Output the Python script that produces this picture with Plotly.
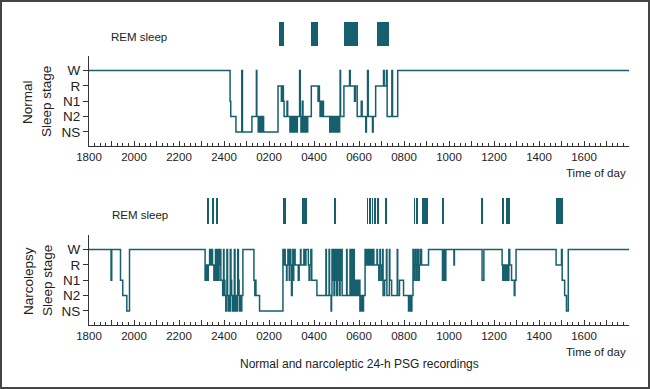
import plotly.graph_objects as go

# ---------------- data ----------------
stage_names = ["NS", "N2", "N1", "R", "W"]          # 0..4
hour_ticks = list(range(18, 43))
hour_labels = ["1800", "", "2000", "", "2200", "", "2400", "", "0200", "", "0400", "",
               "0600", "", "0800", "", "1000", "", "1200", "", "1400", "", "1600", "", ""]

# Normal subject hypnogram (clock hour since 18:00 day 1, stage index)
normal_time = [18.00, 24.27, 24.30, 24.53, 24.79, 24.82, 25.24, 25.44, 25.46, 25.52,
               25.55, 25.58, 25.61, 25.64, 25.67, 25.70, 25.73, 25.76, 26.40, 26.55,
               26.58, 26.64, 26.67, 26.80, 26.83, 26.93, 26.96, 26.99, 27.02, 27.05,
               27.08, 27.11, 27.14, 27.17, 27.20, 27.23, 27.26, 27.36, 27.39, 27.42,
               27.45, 27.48, 27.51, 27.54, 27.57, 27.60, 27.63, 27.66, 27.69, 27.72,
               27.88, 28.18, 28.21, 28.24, 28.27, 28.31, 28.34, 28.38, 28.42, 28.70,
               28.73, 28.76, 28.80, 28.83, 28.87, 28.90, 28.95, 29.00, 29.05, 29.08,
               29.14, 29.16, 29.18, 29.33, 29.58, 29.61, 29.80, 29.84, 29.92, 30.10,
               30.14, 30.30, 30.33, 30.38, 30.41, 30.60, 30.63, 30.74, 31.09, 31.12,
               31.22, 31.25, 31.46, 31.49, 31.72, 42.00]
normal_stage = [4, 2, 1, 0, 4, 0, 1, 4, 1, 0,
                1, 0, 1, 0, 1, 0, 1, 0, 3, 2,
                3, 2, 1, 2, 1, 0, 1, 0, 1, 0,
                1, 0, 1, 0, 1, 0, 1, 4, 1, 0,
                1, 2, 0, 1, 0, 1, 0, 1, 0, 1,
                3, 2, 3, 2, 1, 2, 1, 2, 1, 0,
                1, 0, 1, 0, 1, 0, 1, 0, 1, 0,
                1, 4, 1, 3, 4, 3, 2, 3, 1, 2,
                1, 0, 1, 4, 1, 0, 1, 3, 4, 3,
                4, 1, 4, 1, 4, 4]

# Narcolepsy subject hypnogram
narco_time = [18.00, 18.98, 19.01, 19.40, 19.50, 19.68, 19.80,
              23.16, 23.18, 23.21, 23.23, 23.28, 23.30, 23.36, 23.42, 23.46, 23.49, 23.55, 23.58,
              23.62, 23.64, 23.66, 23.68, 23.70, 23.72, 23.74, 23.76, 23.78, 23.80, 23.84, 23.86,
              23.94, 23.98, 24.00, 24.04, 24.08, 24.11, 24.13, 24.16, 24.19, 24.22, 24.25, 24.28,
              24.31, 24.34, 24.37, 24.40, 24.43, 24.46, 24.49, 24.52, 24.55, 24.58, 24.61, 24.64,
              24.67, 24.70, 24.73, 24.76, 24.79, 24.84,
              25.33, 25.37, 25.39, 25.42, 25.58, 26.62,
              26.64, 26.70, 26.72, 26.78, 26.80, 26.84, 26.86, 26.88, 26.90, 26.92, 26.95, 26.97,
              27.00, 27.03, 27.06, 27.08, 27.10, 27.13, 27.16, 27.30, 27.34, 27.40, 27.42, 27.55,
              27.58, 27.64, 27.75, 27.78, 27.82, 27.86, 27.90, 27.96, 28.13, 28.53, 28.55, 28.67,
              28.69, 28.76, 28.78, 28.80, 28.83, 28.86, 28.89, 28.92, 28.95, 28.98, 29.01, 29.04,
              29.07, 29.10, 29.13, 29.16, 29.19, 29.22, 29.25, 29.29, 29.45, 29.47, 29.60, 29.63,
              29.68, 29.71, 29.76, 29.79, 29.82, 29.86, 29.90, 29.94, 29.98, 30.04, 30.07, 30.10,
              30.13, 30.16, 30.20, 30.27, 30.30, 30.33, 30.36, 30.39, 30.42, 30.45, 30.48, 30.51,
              30.54, 30.57, 30.60, 30.63, 30.66, 30.71, 30.80, 30.82, 30.88, 30.93, 30.95, 31.00,
              31.05, 31.07, 31.14, 31.22, 31.24, 31.35, 31.37, 31.45, 31.70, 31.72, 31.80, 31.98,
              32.20, 32.23, 32.26, 32.29, 32.32, 32.35, 32.40, 32.43, 32.46, 32.50, 32.53, 32.57,
              32.60, 32.64, 32.68, 32.72, 32.78, 33.09, 33.71, 33.74, 33.77, 33.80, 33.83, 33.86,
              33.90, 34.22, 34.24, 35.47, 35.55, 36.36, 36.39, 36.42, 36.45, 36.48, 36.51, 36.55,
              36.60, 36.66, 36.70, 36.78, 36.90, 36.93, 36.98, 38.76, 39.00, 39.03, 39.14, 39.22,
              39.30, 42.00]
narco_stage = [4, 2, 4, 2, 1, 0, 4,
               2, 3, 2, 3, 2, 3, 4, 3, 4, 3, 2, 3,
               4, 2, 4, 3, 4, 2, 4, 2, 4, 3, 4, 2,
               1, 4, 2, 1, 0, 1, 4, 1, 0, 1, 0, 4,
               2, 1, 0, 1, 0, 4, 1, 0, 1, 0, 4, 2,
               1, 0, 1, 0, 1, 4,
               2, 1, 2, 1, 0, 4,
               3, 4, 3, 2, 3, 4, 3, 4, 2, 3, 4, 3,
               1, 3, 4, 2, 3, 4, 3, 2, 3, 4, 3, 4,
               3, 4, 3, 2, 3, 4, 2, 2, 1, 4, 1, 4,
               1, 0, 1, 4, 2, 4, 1, 4, 2, 4, 1, 4,
               2, 4, 1, 4, 2, 4, 1, 1, 4, 1, 4, 1,
               4, 1, 4, 1, 2, 1, 2, 1, 2, 0, 1, 0,
               1, 0, 1, 4, 3, 4, 3, 4, 3, 4, 3, 4,
               3, 4, 3, 4, 3, 3, 4, 3, 2, 4, 3, 2,
               4, 1, 2, 4, 1, 4, 2, 1, 4, 1, 2, 1,
               0, 1, 0, 1, 0, 1, 4, 2, 3, 4, 2, 3,
               4, 2, 3, 4, 3, 4, 2, 4, 2, 4, 2, 4,
               4, 3, 4, 2, 4, 3, 2, 3, 2, 3, 2, 3,
               2, 4, 3, 2, 1, 2, 4, 3, 4, 2, 1, 0,
               4, 4]

# REM periods (start, end in clock hours since 18:00)
normal_rem_start = [26.46, 27.87, 29.33, 30.79]
normal_rem_end = [26.67, 28.19, 29.97, 31.33]

narco_rem_start = [23.24, 23.49, 23.67, 26.62, 27.47, 28.89, 30.37, 30.48, 30.59, 30.70,
                   30.82, 31.18, 32.45, 32.53, 32.78, 33.71, 35.46, 36.36, 36.53, 38.76]
narco_rem_end = [23.33, 23.53, 23.71, 26.76, 27.69, 28.98, 30.40, 30.51, 30.62, 30.73,
                 30.87, 31.24, 32.48, 32.62, 33.07, 33.78, 35.49, 36.42, 36.71, 39.07]

# ---------------- figure ----------------
TEAL = "#16606e"
AX = "#333333"
FONT = "Liberation Sans, Arial, Helvetica, sans-serif"
W, H = 650, 389
L, R = 89, 21


def py(px):
    return 1 - px / H


def pxx(px):
    return (px - L) / (W - L - R)


fig = go.Figure()

fig.add_trace(go.Scatter(x=normal_time, y=normal_stage, mode="lines", line_shape="hv",
                         line=dict(color=TEAL, width=1.5), xaxis="x", yaxis="y",
                         showlegend=False, hoverinfo="skip"))
fig.add_trace(go.Scatter(x=narco_time, y=narco_stage, mode="lines", line_shape="hv",
                         line=dict(color=TEAL, width=1.5), xaxis="x2", yaxis="y2",
                         showlegend=False, hoverinfo="skip"))

fig.add_trace(go.Bar(orientation="h", base=normal_rem_start,
                     x=[e - s for s, e in zip(normal_rem_start, normal_rem_end)],
                     y=[0.5] * len(normal_rem_start), width=1,
                     marker=dict(color=TEAL, line=dict(width=0)),
                     xaxis="x", yaxis="y3", showlegend=False, hoverinfo="skip"))
fig.add_trace(go.Bar(orientation="h", base=narco_rem_start,
                     x=[e - s for s, e in zip(narco_rem_start, narco_rem_end)],
                     y=[0.5] * len(narco_rem_start), width=1,
                     marker=dict(color=TEAL, line=dict(width=0)),
                     xaxis="x2", yaxis="y4", showlegend=False, hoverinfo="skip"))

xcommon = dict(range=[18, 42], tickmode="array", tickvals=hour_ticks, ticktext=hour_labels,
               ticks="inside", ticklen=5, tickwidth=1, tickcolor=AX,
               minor=dict(dtick=0.25, tick0=18, ticks="inside", ticklen=3, tickcolor=AX, tickwidth=1),
               showline=True, linecolor=AX, linewidth=1, showgrid=False, zeroline=False,
               tickfont=dict(family=FONT, size=11.5, color="#222"), domain=[0, 1], fixedrange=True)
ycommon = dict(range=[-0.92, 4.95], tickmode="array", tickvals=[0, 1, 2, 3, 4], ticktext=stage_names,
               ticks="outside", ticklen=5, tickwidth=1, tickcolor=AX,
               showline=True, linecolor=AX, linewidth=1, showgrid=False, zeroline=False,
               tickfont=dict(family=FONT, size=13.5, color="#222"), fixedrange=True)
remaxis = dict(range=[0, 1], visible=False, showgrid=False, zeroline=False, fixedrange=True)

fig.update_layout(
    width=W, height=H,
    margin=dict(l=L, r=R, t=0, b=0, autoexpand=False),
    paper_bgcolor="white", plot_bgcolor="rgba(0,0,0,0)",
    barmode="overlay", bargap=0,
    xaxis=dict(xcommon, anchor="y"),
    xaxis2=dict(xcommon, anchor="y2"),
    yaxis=dict(ycommon, anchor="x", domain=[py(146), py(56)]),
    yaxis2=dict(ycommon, anchor="x2", domain=[py(325), py(235)]),
    yaxis3=dict(remaxis, anchor="x", domain=[py(46), py(22)]),
    yaxis4=dict(remaxis, anchor="x2", domain=[py(224), py(198)]),
    font=dict(family=FONT, color="#222"),
)

ann = []
def text(t, x, y, size, xanchor="center", angle=0):
    ann.append(dict(text=t, x=pxx(x), y=py(y), xref="paper", yref="paper", showarrow=False,
                    xanchor=xanchor, yanchor="middle", textangle=angle,
                    font=dict(family=FONT, size=size, color="#222")))

text("REM sleep", 139, 37, 11.5)
text("REM sleep", 140, 215, 11.5)
text("Time of day", 628, 173, 11.5, xanchor="right")
text("Time of day", 628, 352, 11.5, xanchor="right")
text("Normal", 28, 102, 13.5, angle=-90)
text("Sleep stage", 47, 102, 13.5, angle=-90)
text("Narcolepsy", 28, 281, 13.5, angle=-90)
text("Sleep stage", 47, 281, 13.5, angle=-90)
text("Normal and narcoleptic 24-h PSG recordings", 359, 364, 12)
fig.update_layout(annotations=ann)

fig.add_shape(type="rect", xref="paper", yref="paper",
              x0=pxx(1), x1=pxx(649), y0=py(388), y1=py(1),
              line=dict(color="#444444", width=2), fillcolor="rgba(0,0,0,0)", layer="above")

fig.write_html("out.html", config={"displayModeBar": False},
               post_script="document.body.style.margin='0';document.body.style.overflow='hidden';")
